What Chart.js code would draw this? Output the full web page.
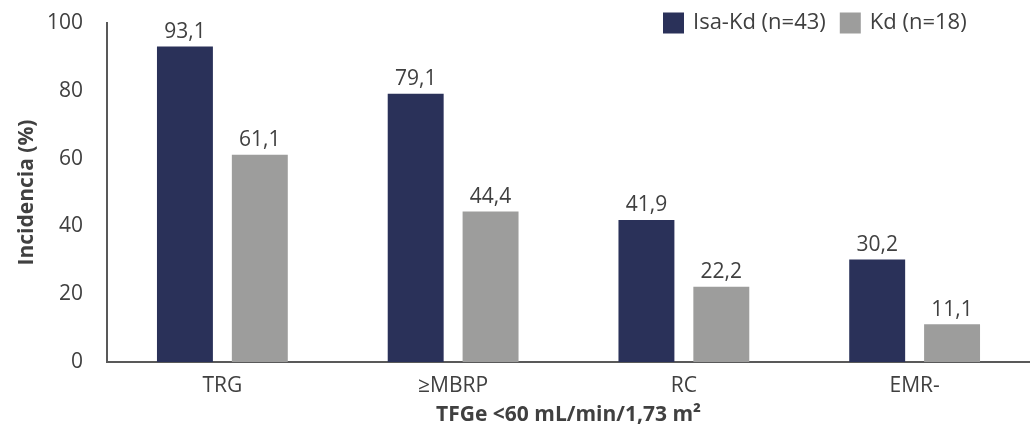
<!DOCTYPE html>
<html>
<head>
<meta charset="utf-8">
<script src="https://cdn.jsdelivr.net/npm/chart.js@4"></script>
<style>
  html, body { margin: 0; padding: 0; background: #ffffff; }
  #wrap { width: 1030px; height: 428px; }
</style>
</head>
<body>
<div id="wrap"><canvas id="chart" width="1030" height="428"></canvas></div>
<script>
// Response outcomes, patients with eGFR < 60 mL/min/1.73 m²
const categories = ['TRG', '≥MBRP', 'RC', 'EMR-'];
const isaKdValues = [93.1, 79.1, 41.9, 30.2];
const kdValues = [61.1, 44.4, 22.2, 11.1];
const seriesNames = ['Isa-Kd (n=43)', 'Kd (n=18)'];
const yTicks = [0, 20, 40, 60, 80, 100];

const NAVY = '#2a3159';
const GREY = '#9d9d9c';
const TEXT = '#404040';
const AXIS = '#595959';
const FONT = '"Open Sans", "Noto Sans", sans-serif';

const fmt = v => v.toFixed(1).replace('.', ',');

// Value labels above each bar
const valueLabels = {
  id: 'valueLabels',
  afterDatasetsDraw(chart) {
    const ctx = chart.ctx;
    ctx.save();
    ctx.font = '21px ' + FONT;
    ctx.fillStyle = TEXT;
    ctx.textAlign = 'center';
    ctx.textBaseline = 'bottom';
    chart.data.datasets.forEach((ds, i) => {
      chart.getDatasetMeta(i).data.forEach((bar, j) => {
        ctx.fillText(fmt(ds.data[j]), bar.x, bar.y - 4);
      });
    });
    ctx.restore();
  }
};

// Legend drawn in the top-right corner over the plot area
const cornerLegend = {
  id: 'cornerLegend',
  afterDraw(chart) {
    const ctx = chart.ctx;
    ctx.save();
    ctx.font = '22px ' + FONT;
    ctx.textBaseline = 'middle';
    ctx.textAlign = 'left';
    let x = 663;
    const y = 23;
    const box = 21;
    chart.data.datasets.forEach((ds, i) => {
      ctx.fillStyle = ds.backgroundColor;
      ctx.fillRect(x, y - box / 2, box, box);
      ctx.fillStyle = TEXT;
      ctx.fillText(ds.label, x + box + 9, y);
      x += box + 9 + ctx.measureText(ds.label).width + 14;
    });
    ctx.restore();
  }
};

new Chart(document.getElementById('chart'), {
  type: 'bar',
  data: {
    labels: categories,
    datasets: [
      { label: seriesNames[0], data: isaKdValues, backgroundColor: NAVY },
      { label: seriesNames[1], data: kdValues, backgroundColor: GREY }
    ]
  },
  options: {
    responsive: false,
    animation: false,
    devicePixelRatio: 1,
    layout: { padding: { top: 23, right: 0, left: 0, bottom: 0 } },
    datasets: {
      bar: { categoryPercentage: 0.649, barPercentage: 0.747 }
    },
    plugins: {
      legend: { display: false },
      tooltip: { enabled: false }
    },
    scales: {
      x: {
        grid: { display: false, drawTicks: false },
        border: { display: true, color: AXIS, width: 2 },
        ticks: { color: TEXT, font: { family: FONT, size: 21 }, padding: 11 },
        title: {
          display: true,
          text: 'TFGe <60 mL/min/1,73 m²',
          color: TEXT,
          font: { family: FONT, size: 21, weight: 'bold' },
          padding: { top: 0, bottom: 0 }
        },
        afterFit(scale) {
          scale.height = 66;
          scale.paddingLeft = 0;
          scale.paddingRight = 0;
        }
      },
      y: {
        min: 0,
        max: 100,
        afterBuildTicks(scale) { scale.ticks = yTicks.map(v => ({ value: v })); },
        grid: { display: false, drawTicks: false },
        border: { display: true, color: AXIS, width: 2 },
        ticks: { color: TEXT, font: { family: FONT, size: 21 }, padding: 24 },
        title: {
          display: true,
          text: 'Incidencia (%)',
          color: TEXT,
          font: { family: FONT, size: 21, weight: 'bold' },
          padding: { top: 14, bottom: 0 }
        },
        afterFit(scale) {
          scale.width = 107;
          scale.paddingTop = 0;
          scale.paddingBottom = 0;
        }
      }
    }
  },
  plugins: [valueLabels, cornerLegend]
});
</script>
</body>
</html>
